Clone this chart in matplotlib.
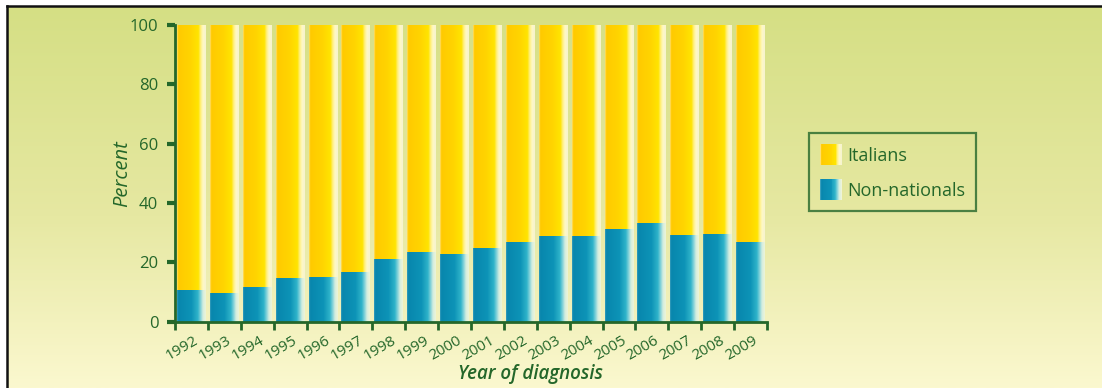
import numpy as np
import matplotlib
matplotlib.use("Agg")
import matplotlib.pyplot as plt
from matplotlib.colors import LinearSegmentedColormap
from matplotlib.lines import Line2D
from matplotlib.patches import Rectangle
from matplotlib.legend_handler import HandlerBase
from matplotlib.transforms import ScaledTranslation

# ---- data -------------------------------------------------------------
years = [1992, 1993, 1994, 1995, 1996, 1997, 1998, 1999, 2000,
         2001, 2002, 2003, 2004, 2005, 2006, 2007, 2008, 2009]
non_nationals = [10.7, 9.7, 11.8, 14.8, 15.2, 16.7, 21.0, 23.4, 22.9,
                 24.9, 26.9, 28.8, 28.8, 31.2, 33.3, 29.3, 29.7, 26.9]
italians = [100 - v for v in non_nationals]
series_labels = ["Italians", "Non-nationals"]
y_ticks = [0, 20, 40, 60, 80, 100]

# ---- styling ----------------------------------------------------------
GREEN = "#24672a"
FONT = "Open Sans"
plt.rcParams["font.family"] = [FONT, "DejaVu Sans"]

yellow_cmap = LinearSegmentedColormap.from_list(
    "yel", [(0.0, "#ffe070"), (0.05, "#ffca00"), (0.45, "#ffd400"),
            (0.74, "#ffe400"), (0.82, "#fff080"), (0.9, "#fff8c4"),
            (1.0, "#f6f4d0")])
blue_cmap = LinearSegmentedColormap.from_list(
    "blu", [(0.0, "#3a9fbd"), (0.05, "#0886ad"), (0.5, "#0d93b7"),
            (0.72, "#2fb3ca"), (0.82, "#86d3da"), (0.9, "#d4eee0"),
            (1.0, "#eef4d8")])

W, H = 1102, 388
fig = plt.figure(figsize=(W / 100, H / 100), dpi=100, facecolor="white")

# background panel with a soft vertical gradient
bg = fig.add_axes([7 / W, 0, 1 - 7 / W, 1 - 6 / H])
bg_cmap = LinearSegmentedColormap.from_list(
    "bg", [(0.0, "#fbf8cf"), (0.45, "#e6e8a2"), (1.0, "#d5df84")])
bg.imshow(np.linspace(0, 1, 256).reshape(-1, 1), cmap=bg_cmap,
          aspect="auto", origin="lower", extent=[0, 1, 0, 1])
bg.set_axis_off()

# frame lines along the top and left edge
fig.add_artist(Line2D([7 / W, 7 / W], [0, 1 - 6 / H], transform=fig.transFigure,
                      color="#111111", lw=1.8))
fig.add_artist(Line2D([7 / W, 1], [1 - 6 / H, 1 - 6 / H], transform=fig.transFigure,
                      color="#111111", lw=1.8))

# ---- main axes --------------------------------------------------------
ax = fig.add_axes([175 / W, 66.3 / H, (767 - 175) / W, (363 - 66.3) / H])
ax.set_facecolor("none")

n = len(years)
x = np.arange(n)
bar_off, bar_w = 0.06, 0.88
grad = np.linspace(0, 1, 256).reshape(1, -1)

blue_bars = ax.bar(x + bar_off, non_nationals, width=bar_w, align="edge",
                   color="#0d93b7", zorder=2)
yel_bars = ax.bar(x + bar_off, italians, width=bar_w, bottom=non_nationals,
                  align="edge", color="#ffd000", zorder=2)

for bars, cmap in ((blue_bars, blue_cmap), (yel_bars, yellow_cmap)):
    for p in bars:
        x0, y0 = p.get_x(), p.get_y()
        ax.imshow(grad, cmap=cmap, aspect="auto", zorder=3,
                  extent=[x0, x0 + p.get_width(), y0, y0 + p.get_height()])

ax.set_xlim(0, n)
ax.set_ylim(0, 100)

for s in ("top", "right"):
    ax.spines[s].set_visible(False)
for s in ("left", "bottom"):
    ax.spines[s].set_color(GREEN)
    ax.spines[s].set_linewidth(2)
    ax.spines[s].set_zorder(5)

ax.set_yticks(y_ticks)
ax.set_yticklabels([str(v) for v in y_ticks])
ax.tick_params(axis="y", direction="out", length=6, width=3, color=GREEN,
               labelcolor=GREEN, labelsize=12, pad=6)

ax.set_xticks(np.arange(n + 1))
ax.set_xticklabels([])
ax.tick_params(axis="x", which="major", direction="out", length=6, width=2,
               color=GREEN)
ax.set_xticks(x + 0.45, minor=True)
ax.set_xticklabels([str(y) for y in years], minor=True)
ax.tick_params(axis="x", which="minor", length=0, labelcolor=GREEN,
               labelsize=11, pad=8)
shift = ScaledTranslation(4 / 100, 0, fig.dpi_scale_trans)
for lab in ax.get_xticklabels(minor=True):
    lab.set_rotation(30)
    lab.set_ha("right")
    lab.set_va("top")
    lab.set_rotation_mode("anchor")
    lab.set_transform(lab.get_transform() + shift)

ax.set_ylabel("Percent", color=GREEN, fontsize=14.5, style="italic")
ax.yaxis.set_label_coords((132 - 175) / 592, 0.5)
ax.set_xlabel("Year of diagnosis", color=GREEN, fontsize=13.5, style="italic",
              fontweight="semibold")
ax.xaxis.set_label_coords((531 - 175) / 592, (388 - 364 - 66.3) / 296.7)


# ---- legend with gradient swatches -------------------------------------
class GradientHandler(HandlerBase):
    def __init__(self, cmap):
        super().__init__()
        self.cmap = cmap

    def create_artists(self, legend, orig_handle, xdescent, ydescent,
                       width, height, fontsize, trans):
        steps = 24
        arts = []
        for i in range(steps):
            r = Rectangle((-xdescent + width * i / steps, -ydescent),
                          width / steps + 0.3, height,
                          facecolor=self.cmap(i / (steps - 1)),
                          edgecolor="none", transform=trans)
            arts.append(r)
        return arts


h_it = Rectangle((0, 0), 1, 1)
h_nn = Rectangle((0, 0), 1, 1)
leg = ax.legend([h_it, h_nn], series_labels,
                handler_map={h_it: GradientHandler(yellow_cmap),
                             h_nn: GradientHandler(blue_cmap)},
                loc="upper left", bbox_to_anchor=(809 / W, 1 - 133 / H),
                bbox_transform=fig.transFigure, borderaxespad=0,
                fontsize=13, handlelength=1.2, handleheight=1.45,
                handletextpad=0.3, labelspacing=0.75, borderpad=0.6,
                fancybox=False, frameon=True, labelcolor=GREEN)
leg.get_frame().set_edgecolor(GREEN)
leg.get_frame().set_linewidth(1.6)
leg.get_frame().set_facecolor("none")

fig.savefig("out.png", dpi=100, facecolor=fig.get_facecolor())
